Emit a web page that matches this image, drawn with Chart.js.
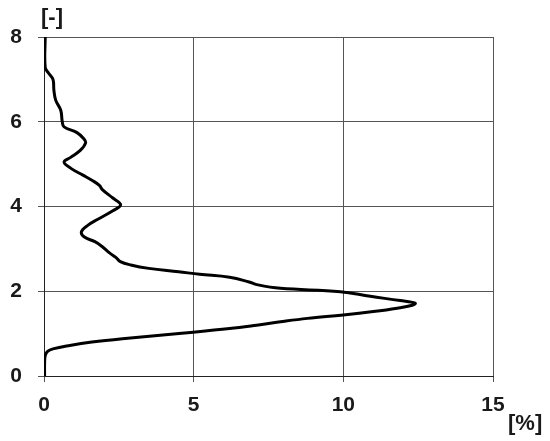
<!DOCTYPE html>
<html>
<head>
<meta charset="utf-8">
<script src="https://cdn.jsdelivr.net/npm/chart.js@4"></script>
<style>
  html, body { margin: 0; padding: 0; background: #fff; }
  #wrap { width: 550px; height: 441px; }
</style>
</head>
<body>
<div id="wrap"><canvas id="chDist"></canvas></div>
<script>
// curve, ordered from bottom (y=0) to top (y=8)
const levelValues = [0, 0.3, 0.48, 0.58, 0.64, 0.72, 0.8, 0.88, 1.01, 1.12, 1.2, 1.28, 1.36, 1.44, 1.52, 1.6, 1.67, 1.72,
    1.78, 1.88, 1.99, 2.07, 2.15, 2.22, 2.33, 2.4, 2.46, 2.54, 2.62, 2.7, 2.8, 2.9, 3.05, 3.17, 3.28, 3.4, 3.55, 3.7, 3.9,
    4.04, 4.2, 4.4, 4.5, 4.62, 4.74, 4.9, 5.05, 5.16, 5.33, 5.5, 5.6, 5.75, 5.88, 6.0, 6.27, 6.51, 6.75,
    7.0, 7.15, 7.28, 8];
const pctValues = [0.02, 0.02, 0.04, 0.12, 0.3, 0.86, 1.6, 2.62, 4.6, 6.2, 7.1, 7.9, 8.8, 10.0, 11.0, 11.8, 12.3, 12.4,
    11.9, 10.9, 9.9, 7.9, 7.15, 6.85, 6.2, 5.2, 4.5, 3.5, 2.9, 2.55, 2.4, 2.2, 1.95, 1.7, 1.35, 1.25, 1.45, 1.8, 2.3,
    2.56, 2.3, 1.95, 1.85, 1.6, 1.3, 0.9, 0.67, 0.89, 1.22, 1.39, 1.33, 1.09, 0.67, 0.61, 0.56, 0.39, 0.33,
    0.3, 0.15, 0.04, 0.04];
const xTicks = [0, 5, 10, 15];
const yTicks = [0, 2, 4, 6, 8];

const unitLabels = {
    id: 'unitLabels',
    afterDraw(chart) {
        const { ctx, chartArea } = chart;
        ctx.save();
        ctx.fillStyle = '#1a1a1a';
        ctx.font = 'bold 22px "Liberation Sans", Arial, sans-serif';
        ctx.textAlign = 'center';
        ctx.textBaseline = 'middle';
        ctx.fillText('[-]', chartArea.left + 8, 18);
        ctx.textAlign = 'left';
        ctx.fillText('[%]', chartArea.right + 15, 424);
        ctx.restore();
    }
};

const tickFont = { family: '"Liberation Sans", Arial, sans-serif', size: 21, weight: 'bold' };

new Chart(document.getElementById('chDist').getContext('2d'), {
    type: 'scatter',
    data: {
        datasets: [{
            data: pctValues.map((x, i) => ({ x: x, y: levelValues[i] })),
            showLine: true,
            borderColor: '#000',
            borderWidth: 3,
            pointRadius: 0,
            tension: 0.4,
            fill: false
        }]
    },
    options: {
        responsive: true,
        maintainAspectRatio: false,
        animation: false,
        layout: { padding: { top: 37, right: 57, left: 0, bottom: 0 } },
        plugins: { legend: { display: false }, tooltip: { enabled: false } },
        scales: {
            x: {
                type: 'linear',
                min: 0, max: 15,
                afterBuildTicks: s => { s.ticks = xTicks.map(v => ({ value: v })); },
                afterFit: s => { s.height = 65; },
                grid: { color: '#555', lineWidth: 1, tickLength: 6 },
                border: { color: '#222', width: 1 },
                ticks: { color: '#1a1a1a', font: tickFont, padding: 11, maxRotation: 0 }
            },
            y: {
                type: 'linear',
                min: 0, max: 8,
                afterBuildTicks: s => { s.ticks = yTicks.map(v => ({ value: v })); },
                afterFit: s => { s.width = 44; },
                grid: { color: '#555', lineWidth: 1, tickLength: 6 },
                border: { color: '#222', width: 1 },
                ticks: { color: '#1a1a1a', font: tickFont, padding: 16 }
            }
        }
    },
    plugins: [unitLabels]
});
</script>
</body>
</html>
